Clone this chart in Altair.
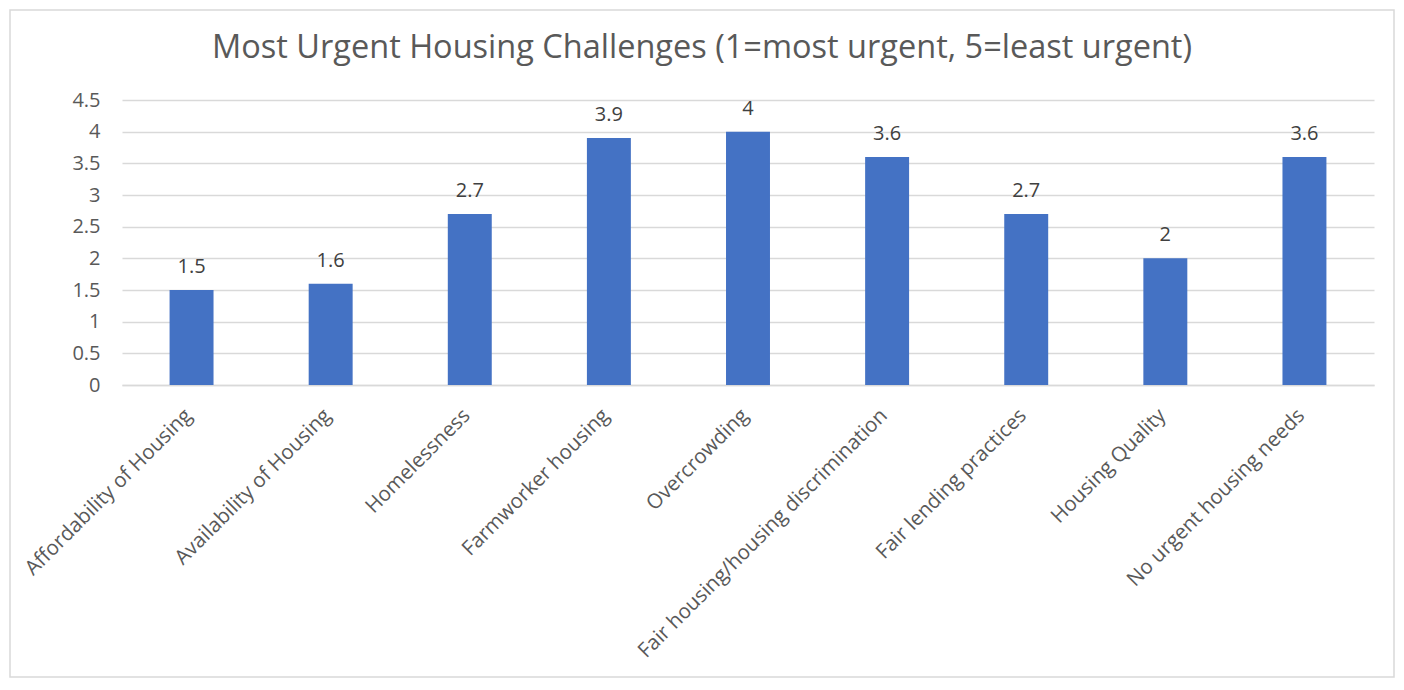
import altair as alt
import pandas as pd

categories = [
    "Affordability of Housing",
    "Availability of Housing",
    "Homelessness",
    "Farmworker housing",
    "Overcrowding",
    "Fair housing/housing discrimination",
    "Fair lending practices",
    "Housing Quality",
    "No urgent housing needs",
]
values = [1.5, 1.6, 2.7, 3.9, 4.0, 3.6, 2.7, 2.0, 3.6]
y_ticks = [0, 0.5, 1, 1.5, 2, 2.5, 3, 3.5, 4, 4.5]
title_text = "Most Urgent Housing Challenges (1=most urgent, 5=least urgent)"

df = pd.DataFrame({"category": categories, "value": values})

FONT = "Open Sans"
W, H = 1252, 285

x = alt.X(
    "category:N",
    sort=categories,
    title=None,
    scale=alt.Scale(paddingInner=0.684, paddingOuter=0.342),
    axis=alt.Axis(
        labelAngle=-45,
        labelFontSize=20.5,
        labelFont=FONT,
        labelColor="#595959",
        labelPadding=20,
        labelOffset=-10,
        ticks=False,
        domain=True,
        domainColor="#d9d9d9",
        domainWidth=1.5,
        labelLimit=500,
    ),
)

y = alt.Y(
    "value:Q",
    title=None,
    scale=alt.Scale(domain=[0, 4.5], nice=False),
    axis=alt.Axis(
        values=y_ticks,
        labelExpr="format(datum.value, '~g')",
        labelFontSize=20,
        labelFont=FONT,
        labelColor="#595959",
        labelPadding=22,
        ticks=False,
        domain=False,
        grid=True,
        gridColor="#d9d9d9",
        gridWidth=1.5,
        labelOverlap=False,
    ),
)

base = alt.Chart(df)

bars = base.mark_bar(color="#4472C4").encode(x=x, y=y)

labels = base.mark_text(
    font=FONT, fontSize=20, color="#404040", baseline="alphabetic", dy=-17
).encode(x=x, y=y, text=alt.Text("value:Q", format="~g"))

border = alt.Chart(pd.DataFrame({"a": [0]})).mark_rect(
    fill=None, stroke="#d9d9d9", strokeWidth=1.5
).encode(
    x=alt.value(-112), x2=alt.value(1272), y=alt.value(-90), y2=alt.value(577)
)

chart = alt.layer(border, bars, labels).properties(
    width=W,
    height=H,
    title=alt.TitleParams(
        text=title_text,
        font=FONT,
        fontSize=32.5,
        fontWeight="normal",
        color="#595959",
        anchor="middle",
        dx=-46,
        offset=-55,
    ),
    autosize=alt.AutoSizeParams(type="none"),
    padding={"left": 114, "top": 92, "right": 22, "bottom": 294},
).configure_view(stroke=None)

chart.save("out.html", embed_options={"renderer": "svg", "actions": False})
